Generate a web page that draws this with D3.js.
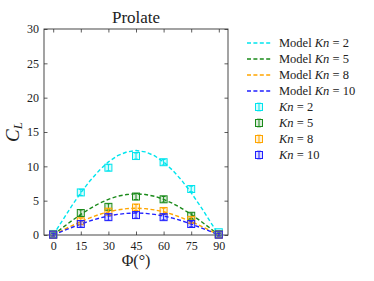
<!DOCTYPE html>
<html>
<head>
<meta charset="utf-8">
<script src="https://cdn.jsdelivr.net/npm/d3@7"></script>
<style>
  body { margin: 0; background: #fff; }
  text { font-family: "Liberation Serif", "DejaVu Serif", serif; fill: #222; }
</style>
</head>
<body>
<div id="chart"></div>
<script>
var angles = [0, 15, 30, 45, 60, 75, 90];
var kn2 = [0.15, 6.2, 9.8, 11.5, 10.6, 6.7, 0.4];
var kn5 = [0.05, 3.2, 4.1, 5.6, 5.2, 2.8, 0.1];
var kn8 = [0.05, 2.0, 3.4, 4.0, 3.5, 2.2, 0.05];
var kn10 = [0.05, 1.6, 2.6, 2.9, 2.6, 1.6, 0.05];
var errs = [0.2, 0.45, 0.45, 0.45, 0.4, 0.4, 0.2];

var modelAngles = [0, 5, 10, 15, 20, 25, 30, 35, 40, 45, 50, 55, 60, 65, 70, 75, 80, 85, 90];
var model2 = [0, 2.1, 4.2, 6.15, 7.9, 9.4, 10.65, 11.55, 12.1, 12.3, 12.1, 11.55, 10.65, 9.4, 7.9, 6.15, 4.2, 2.1, 0];
var model5 = [0, 1.05, 2.05, 3.0, 3.85, 4.6, 5.2, 5.65, 5.9, 6.0, 5.9, 5.65, 5.2, 4.6, 3.85, 3.0, 2.05, 1.05, 0];
var model8 = [0, 0.68, 1.33, 1.95, 2.5, 2.99, 3.38, 3.66, 3.84, 3.9, 3.84, 3.66, 3.38, 2.99, 2.5, 1.95, 1.33, 0.68, 0];
var model10 = [0, 0.56, 1.09, 1.6, 2.06, 2.45, 2.77, 3.0, 3.15, 3.2, 3.15, 3.0, 2.77, 2.45, 2.06, 1.6, 1.09, 0.56, 0];

var knLabels = ["2", "5", "8", "10"];
var colors = ["#00e5ee", "#1a8a1a", "orange", "#2020ff"];
var xTicks = [0, 15, 30, 45, 60, 75, 90];
var yTicks = [0, 5, 10, 15, 20, 25, 30];

var width = 374, height = 281;
var plotL = 44, plotR = 228, plotT = 29, plotB = 235;

var svg = d3.select("#chart").append("svg")
    .attr("width", width)
    .attr("height", height);

var x = d3.scaleLinear().domain([-5, 95]).range([plotL, plotR]);
var y = d3.scaleLinear().domain([0, 30]).range([plotB, plotT]);

// ticks, pointing inward on all four sides
svg.append("g").attr("transform", "translate(0," + plotB + ")")
    .call(d3.axisBottom(x).tickValues(xTicks).tickSizeInner(-3.5).tickSizeOuter(0).tickPadding(6))
    .call(function (g) { g.select(".domain").remove(); g.selectAll("text").attr("font-size", 12).attr("font-family", "Liberation Serif"); });
svg.append("g").attr("transform", "translate(0," + plotT + ")")
    .call(d3.axisTop(x).tickValues(xTicks).tickSizeInner(-3.5).tickSizeOuter(0).tickFormat(""))
    .call(function (g) { g.select(".domain").remove(); });
svg.append("g").attr("transform", "translate(" + plotL + ",0)")
    .call(d3.axisLeft(y).tickValues(yTicks).tickSizeInner(-3.5).tickSizeOuter(0).tickPadding(5))
    .call(function (g) { g.select(".domain").remove(); g.selectAll("text").attr("font-size", 12).attr("font-family", "Liberation Serif"); });
svg.append("g").attr("transform", "translate(" + plotR + ",0)")
    .call(d3.axisRight(y).tickValues(yTicks).tickSizeInner(-3.5).tickSizeOuter(0).tickFormat(""))
    .call(function (g) { g.select(".domain").remove(); });
svg.selectAll(".tick line").attr("stroke", "#333").attr("stroke-width", 0.8);

svg.append("rect")
    .attr("x", plotL).attr("y", plotT)
    .attr("width", plotR - plotL).attr("height", plotB - plotT)
    .attr("fill", "none").attr("stroke", "#333").attr("stroke-width", 0.9);

var models = [model2, model5, model8, model10];
var measured = [kn2, kn5, kn8, kn10];

var line = d3.line()
    .x(function (d) { return x(d[0]); })
    .y(function (d) { return y(d[1]); });

models.forEach(function (m, i) {
    svg.append("path")
        .datum(modelAngles.map(function (a, j) { return [a, m[j]]; }))
        .attr("d", line)
        .attr("fill", "none")
        .attr("stroke", colors[i])
        .attr("stroke-width", 1.4)
        .attr("stroke-dasharray", "4,2.4");
});

function marker(g, cx, cy, err, c) {
    var ey = y(0) - y(err);
    g.append("line").attr("x1", cx).attr("x2", cx).attr("y1", cy - ey).attr("y2", cy + ey)
        .attr("stroke", c).attr("stroke-width", 1);
    g.append("line").attr("x1", cx - 2).attr("x2", cx + 2).attr("y1", cy - ey).attr("y2", cy - ey)
        .attr("stroke", c).attr("stroke-width", 1);
    g.append("line").attr("x1", cx - 2).attr("x2", cx + 2).attr("y1", cy + ey).attr("y2", cy + ey)
        .attr("stroke", c).attr("stroke-width", 1);
    g.append("rect").attr("x", cx - 3.5).attr("y", cy - 3.5).attr("width", 7).attr("height", 7)
        .attr("fill", c).attr("fill-opacity", 0.15)
        .attr("stroke", c).attr("stroke-width", 1);
}

measured.forEach(function (vals, i) {
    var g = svg.append("g");
    angles.forEach(function (a, j) {
        marker(g, x(a), y(vals[j]), errs[j], colors[i]);
    });
});

// title and axis labels
svg.append("text")
    .attr("x", (plotL + plotR) / 2).attr("y", 23)
    .attr("text-anchor", "middle").attr("font-size", 17)
    .text("Prolate");

var yl = svg.append("text")
    .attr("transform", "translate(19," + ((plotT + plotB) / 2) + ") rotate(-90)")
    .attr("text-anchor", "middle").attr("font-size", 19);
yl.append("tspan").attr("font-style", "italic").text("C");
yl.append("tspan").attr("font-style", "italic").attr("font-size", 13).attr("dy", 3).text("L");

svg.append("text")
    .attr("x", (plotL + plotR) / 2).attr("y", 266)
    .attr("text-anchor", "middle").attr("font-size", 16)
    .text("Φ(°)");

// legend
var rowY = [43, 59, 75, 91, 107, 123, 139, 155];
var leg = svg.append("g");

function legText(ty, prefix, val) {
    var t = leg.append("text").attr("x", 279).attr("y", ty + 4).attr("font-size", 12.5);
    if (prefix) t.append("tspan").text(prefix);
    t.append("tspan").attr("font-style", "italic").text("Kn");
    t.append("tspan").text(" = " + val);
}

knLabels.forEach(function (k, i) {
    leg.append("line")
        .attr("x1", 247).attr("x2", 271)
        .attr("y1", rowY[i]).attr("y2", rowY[i])
        .attr("stroke", colors[i]).attr("stroke-width", 1.4)
        .attr("stroke-dasharray", "4,2.4");
    legText(rowY[i], "Model ", k);
});

knLabels.forEach(function (k, i) {
    marker(leg, 259, rowY[i + 4], 0.55, colors[i]);
    legText(rowY[i + 4], "", k);
});
</script>
</body>
</html>
